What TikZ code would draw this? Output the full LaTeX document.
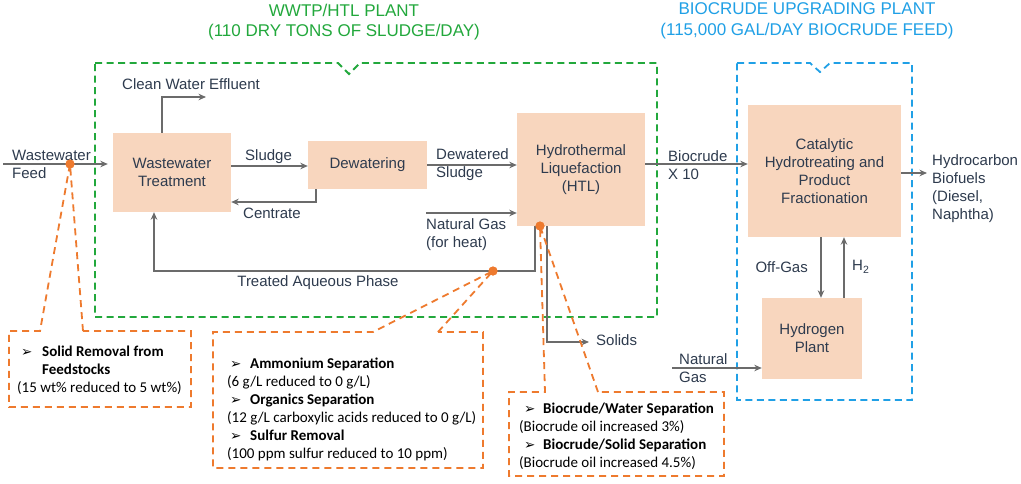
\documentclass[tikz,border=0pt]{standalone}
\usepackage{fontspec}
\setmainfont{Liberation Sans}
\newfontfamily\calib{Carlito}
\newfontfamily\djv{DejaVu Sans}
\usetikzlibrary{arrows.meta}
\definecolor{peach}{HTML}{F8D6BE}
\definecolor{txt}{HTML}{2E3B4E}
\definecolor{arr}{HTML}{6B6B6B}
\definecolor{grn}{HTML}{22A83C}
\definecolor{blu}{HTML}{20A0E6}
\definecolor{org}{HTML}{EE7A2E}
\newcommand\lblfont{\fontsize{15}{18}\selectfont}
\newcommand\ttlfont{\fontsize{17}{20.5}\selectfont}
\newcommand\calfont{\calib\fontsize{15}{18}\selectfont}
\newcommand\bul{{\djv\fontsize{13.5}{13.5}\selectfont ➢}}
\begin{document}
\begin{tikzpicture}[x=1pt,y=-1pt,
  box/.style={fill=peach, draw=none, text=txt, align=center, font=\lblfont, inner sep=0},
  flow/.style={draw=arr, line width=1.6pt, -{Stealth[length=7.5pt,width=6.5pt]}},
  lbl/.style={text=txt, font=\lblfont, inner sep=0, align=left},
  ttl/.style={font=\ttlfont, inner sep=0, align=center},
  grpbox/.style={line width=1.8pt, dash pattern=on 7pt off 4.5pt},
  callout/.style={draw=org, line width=1.8pt, dash pattern=on 7pt off 5pt},
  calltext/.style={font=\calfont, inner sep=0, align=left, text=black},
  dot/.style={circle, fill=org, draw=none, minimum size=9pt, inner sep=0}]
\useasboundingbox (0,0) rectangle (1021,483);
\fill[white] (0,0) rectangle (1021,483);

% group frames
\draw[grpbox, draw=grn] (95,63) -- (338,63) -- (349,74) -- (360,63) -- (657,63) -- (657,317) -- (95,317) -- cycle;
\draw[grpbox, draw=blu] (737,63) -- (810,63) -- (820,72) -- (830,63) -- (912,63) -- (912,400) -- (737,400) -- cycle;

% titles
\node[ttl, text=grn] (tWW) at (344,22) {WWTP/HTL PLANT\\(110 DRY TONS OF SLUDGE/DAY)};
\node[ttl, text=blu] (tBU) at (807,21) {BIOCRUDE UPGRADING PLANT\\(115,000 GAL/DAY BIOCRUDE FEED)};

% process boxes
\node[box, minimum width=118pt, minimum height=79pt] (wwt) at (172,172.5) {Wastewater\\Treatment};
\node[box, minimum width=119pt, minimum height=48pt] (dew) at (367.5,165) {Dewatering};
\node[box, minimum width=128pt, minimum height=113pt] (htl) at (581,169.5) {Hydrothermal\\Liquefaction\\(HTL)};
\node[box, minimum width=153pt, minimum height=132pt] (cat) at (824.5,171) {Catalytic\\Hydrotreating and\\Product\\Fractionation};
\node[box, minimum width=100pt, minimum height=81pt] (h2p) at (812,338.5) {Hydrogen\\Plant};

% helper coordinates
\coordinate (feedin) at (3,164);
\coordinate (cwUp) at (162,97);
\coordinate (cwEnd) at (206,97);
\coordinate (ySl) at (0,166);
\coordinate (cenC) at (316,202);
\coordinate (yDs) at (0,165);
\coordinate (ngh) at (426,213);
\coordinate (taR) at (535,271);
\coordinate (taL) at (154,271);
\coordinate (solC) at (547,342);
\coordinate (solE) at (589,342);
\coordinate (yBc) at (0,164);
\coordinate (hcE) at (927,173);
\coordinate (xOg) at (821,0);
\coordinate (xH) at (844,0);
\coordinate (ngS) at (672,368);

% connectors
\draw[flow, shorten >=5pt] (feedin) -- (feedin -| wwt.west);
\draw[flow] (cwUp |- wwt.north) -- (cwUp) -- (cwEnd);
\draw[flow] (wwt.east |- ySl) -- (dew.west |- ySl);
\draw[flow] (cenC |- dew.south) -- (cenC) -- (cenC -| wwt.east);
\draw[flow] (dew.east |- yDs) -- (htl.west |- yDs);
\draw[flow] (ngh) -- (ngh -| htl.west);
\draw[flow] (taR |- htl.south) -- (taR) -- (taL) -- (taL |- wwt.south);
\draw[flow] (solC |- htl.south) -- (solC) -- (solE);
\draw[flow] (htl.east |- yBc) -- (cat.west |- yBc);
\draw[flow] (cat.east |- hcE) -- (hcE);
\draw[flow] (cat.south -| xOg) -- (h2p.north -| xOg);
\draw[flow] (h2p.north -| xH) -- (cat.south -| xH);
\draw[flow] (ngS) -- (ngS -| h2p.west);

% labels
\node[lbl, anchor=west] (lCW) at (122,84) {Clean Water Effluent};
\node[lbl, anchor=west] (lWF) at (12,164) {Wastewater\\Feed};
\node[lbl, anchor=west] (lSl) at (245,157) {Sludge};
\node[lbl, anchor=west] (lCe) at (243,213) {Centrate};
\node[lbl, anchor=west] (lDS) at (436,165) {Dewatered\\Sludge};
\node[lbl, anchor=west] (lNH) at (426,234.5) {Natural Gas\\(for heat)};
\node[lbl] (lTA) at (318,283) {Treated Aqueous Phase};
\node[lbl, anchor=west] (lSo) at (596,340) {Solids};
\node[lbl, anchor=west] (lBc) at (668,165) {Biocrude\\X 10};
\node[lbl, anchor=west] (lHB) at (932,189) {Hydrocarbon\\Biofuels\\(Diesel,\\Naphtha)};
\node[lbl, anchor=east] (lOG) at (808,267) {Off-Gas};
\node[lbl, anchor=west] (lH2) at (852,267) {H\textsubscript{2}};
\node[lbl, anchor=west] (lNG) at (679,368) {Natural\\Gas};

% callout dots
\node[dot] (d1) at (70,164) {};
\node[dot] (d2) at (493,271) {};
\node[dot] (d3) at (540,226) {};

% callout frames
\draw[callout] (83,331) -- (d1.center) -- (40,331) -- (9,331) -- (9,407) -- (191,407) -- (191,331) -- cycle;
\draw[callout] (438,332) -- (d2.center) -- (373,332) -- (213,332) -- (213,468) -- (483,468) -- (483,332) -- cycle;
\draw[callout] (598,392) -- (d3.center) -- (545,392) -- (509,392) -- (509,476) -- (724,476) -- (724,392) -- cycle;
\node[dot] at (d1) {};
\node[dot] at (d2) {};
\node[dot] at (d3) {};

% callout texts
\node[calltext, anchor=west] (c1) at (17,370) {\makebox[25pt][l]{\hspace{4pt}\bul}\textbf{Solid Removal from}\\
\hspace*{25pt}\textbf{Feedstocks}\\
(15 wt\% reduced to 5 wt\%)};
\node[calltext, anchor=west] (c2) at (227,409) {\makebox[23pt][l]{\hspace{3pt}\bul}\textbf{Ammonium Separation}\\
(6 g/L reduced to 0 g/L)\\
\makebox[23pt][l]{\hspace{3pt}\bul}\textbf{Organics Separation}\\
(12 g/L carboxylic acids reduced to 0 g/L)\\
\makebox[23pt][l]{\hspace{3pt}\bul}\textbf{Sulfur Removal}\\
(100 ppm sulfur reduced to 10 ppm)};
\node[calltext, anchor=west] (c3) at (519,436.5) {\makebox[24pt][l]{\hspace{5pt}\bul}\textbf{Biocrude/Water Separation}\\
(Biocrude oil increased 3\%)\\
\makebox[24pt][l]{\hspace{5pt}\bul}\textbf{Biocrude/Solid Separation}\\
(Biocrude oil increased 4.5\%)};
\end{tikzpicture}
\end{document}
